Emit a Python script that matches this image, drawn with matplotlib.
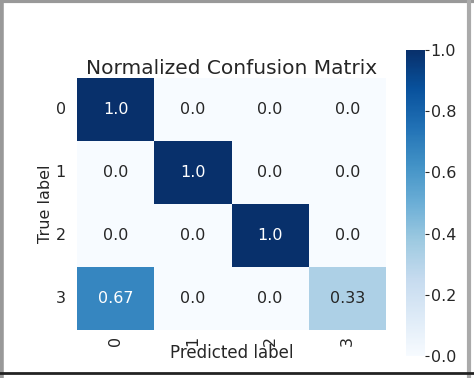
import numpy as np
import matplotlib
matplotlib.use("Agg")
import matplotlib.pyplot as plt
import seaborn as sns
from matplotlib.lines import Line2D

labels = ["0", "1", "2", "3"]
cm = np.array([[1.0, 0.0, 0.0, 0.0],
               [0.0, 1.0, 0.0, 0.0],
               [0.0, 0.0, 1.0, 0.0],
               [0.67, 0.0, 0.0, 0.33]])
annot = [["1.0", "0.0", "0.0", "0.0"],
         ["0.0", "1.0", "0.0", "0.0"],
         ["0.0", "0.0", "1.0", "0.0"],
         ["0.67", "0.0", "0.0", "0.33"]]

fig = plt.figure(figsize=(4.74, 3.78), dpi=100)
ax = fig.add_axes([77/474, 1-330/378, 309/474, 252/378])
cax = fig.add_axes([406/474, 1-356/378, 19/474, 306/378])

sns.heatmap(cm, ax=ax, cbar_ax=cax, cmap="Blues", vmin=0, vmax=1,
            annot=np.array(annot), fmt="", annot_kws={"size": 11.5},
            xticklabels=labels, yticklabels=labels)

ax.set_title("Normalized Confusion Matrix", fontsize=14.5, color="#262626", pad=2)
ax.set_xlabel("Predicted label", fontsize=12, color="#262626", labelpad=-1)
ax.set_ylabel("True label", fontsize=11.5, color="#262626", labelpad=2)
ax.tick_params(axis="x", labelrotation=90, labelsize=11.5, length=0, pad=4)
ax.tick_params(axis="y", labelrotation=0, labelsize=11.5, length=0, pad=8)
for t in ax.get_xticklabels() + ax.get_yticklabels():
    t.set_color("#262626")

cax.tick_params(labelsize=11.5, length=3, width=0.8, colors="#262626", pad=1)
cax.set_yticks([0.0, 0.2, 0.4, 0.6, 0.8, 1.0])
cax.set_yticklabels(["0.0", "0.2", "0.4", "0.6", "0.8", "1.0"])
for s in cax.spines.values():
    s.set_visible(False)

# frame around the screenshot
fig.add_artist(Line2D([0, 1], [0.997, 0.997], color="#999999", lw=3, transform=fig.transFigure))
fig.add_artist(Line2D([0.003, 0.003], [0, 1], color="#999999", lw=4, transform=fig.transFigure))
fig.add_artist(Line2D([0.990, 0.990], [0, 1], color="#aaaaaa", lw=3, transform=fig.transFigure))
fig.add_artist(Line2D([0, 1], [1-373/378, 1-373/378], color="#222222", lw=2, transform=fig.transFigure))

fig.savefig("out.png", dpi=100)
